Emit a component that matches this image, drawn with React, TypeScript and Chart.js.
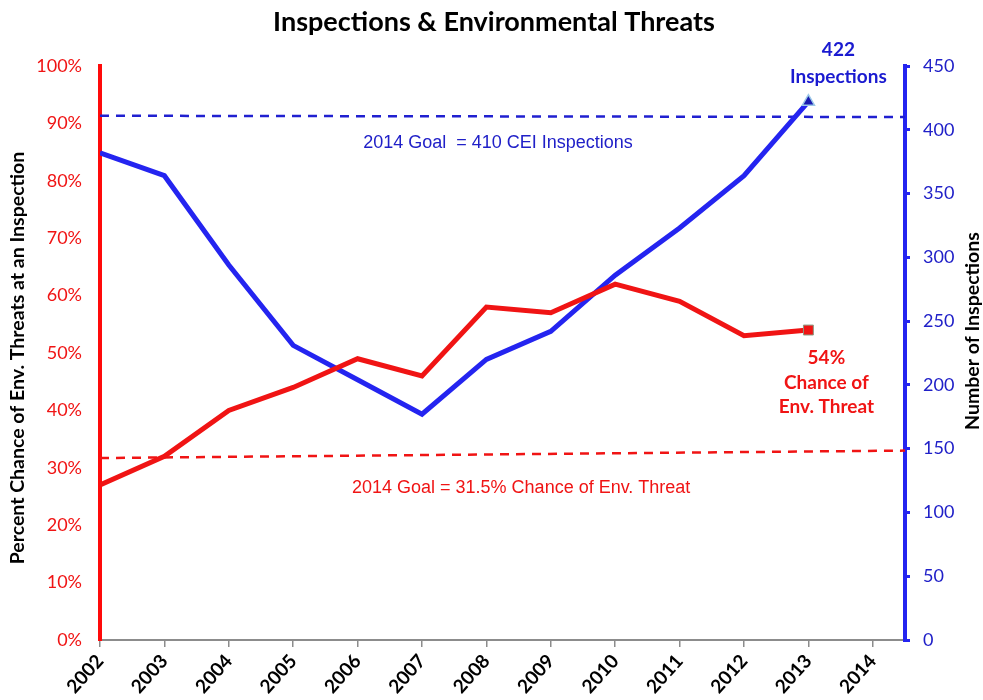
import React, { useEffect, useRef } from "react";
import { Chart, registerables } from "chart.js";

Chart.register(...registerables);

const years = [2002, 2003, 2004, 2005, 2006, 2007, 2008, 2009, 2010, 2011, 2012, 2013];
const threatPct = [27, 32, 40, 44, 49, 46, 58, 57, 62, 59, 53, 54];
const inspections = [382, 364, 294, 231, 204, 177, 220, 242, 286, 323, 364, 422];
const goalYears = [2002, 2014.5];
const threatGoal = [31.7, 33.0];
const inspectionGoal = [411, 410];
const xTickYears = [2002, 2003, 2004, 2005, 2006, 2007, 2008, 2009, 2010, 2011, 2012, 2013, 2014];

const RED = "#f01414";
const BLUE = "#2424f0";

const textPlugin = {
  id: "textPlugin",
  afterDraw(chart: any) {
    const ctx = chart.ctx;
    const xS = chart.scales.x;
    const yL = chart.scales.yL;
    const yR = chart.scales.yR;
    ctx.save();
    ctx.textAlign = "center";
    ctx.textBaseline = "middle";
    // Title
    ctx.fillStyle = "#000";
    ctx.font = "bold 27px Lato";
    ctx.fillText("Inspections & Environmental Threats", 494, 22);
    // Left axis title
    ctx.save();
    ctx.translate(18, 358);
    ctx.rotate(-Math.PI / 2);
    ctx.font = "bold 19.5px Lato";
    ctx.fillText("Percent Chance of Env. Threats at an Inspection", 0, 0);
    ctx.restore();
    // Right axis title
    ctx.save();
    ctx.translate(973, 331);
    ctx.rotate(-Math.PI / 2);
    ctx.font = "bold 19.5px Lato";
    ctx.fillText("Number of Inspections", 0, 0);
    ctx.restore();

    const last = years.length - 1;
    // 422 Inspections
    const bx = xS.getPixelForValue(years[last]) + 30;
    const by = yR.getPixelForValue(inspections[last]);
    ctx.fillStyle = "#1a1ad0";
    ctx.font = "bold 19px Lato";
    ctx.fillText(String(inspections[last]), bx, by - 52);
    ctx.fillText("Inspections", bx, by - 25);
    // 54% Chance of Env. Threat
    const rx = xS.getPixelForValue(years[last]) + 18;
    const ry = yL.getPixelForValue(threatPct[last]);
    ctx.fillStyle = RED;
    ctx.fillText(threatPct[last] + "%", rx, ry + 28);
    ctx.fillText("Chance of", rx, ry + 53);
    ctx.fillText("Env. Threat", rx, ry + 77);
    // Goal labels
    ctx.font = "18px 'Liberation Sans'";
    ctx.fillStyle = "#2020c8";
    ctx.fillText("2014 Goal  = 410 CEI Inspections", xS.getPixelForValue(2008.18), yR.getPixelForValue(inspectionGoal[0]) + 27);
    ctx.fillStyle = RED;
    ctx.fillText("2014 Goal = 31.5% Chance of Env. Threat", xS.getPixelForValue(2008.54), yL.getPixelForValue(threatGoal[0]) + 30);
    ctx.restore();
  },
};

export default function App() {
  const ref = useRef<HTMLCanvasElement>(null);
  useEffect(() => {
    if (!ref.current) return;
    const n = years.length;
    const chart = new Chart(ref.current, {
      type: "line",
      data: {
        datasets: [
          {
            label: "Chance of Env. Threat",
            data: years.map((y, i) => ({ x: y, y: threatPct[i] })),
            yAxisID: "yL",
            borderColor: RED,
            borderWidth: 5,
            backgroundColor: RED,
            pointStyle: "rect",
            pointRadius: years.map((_, i) => (i === n - 1 ? 7 : 0)),
            pointBorderColor: "#8a9a82",
            pointBorderWidth: 1,
            tension: 0,
          },
          {
            label: "Inspections",
            data: years.map((y, i) => ({ x: y, y: inspections[i] })),
            yAxisID: "yR",
            borderColor: BLUE,
            borderWidth: 5,
            backgroundColor: "#1a1ab0",
            pointStyle: "triangle",
            pointRadius: years.map((_, i) => (i === n - 1 ? 7 : 0)),
            pointBorderColor: "#9cc8e8",
            pointBorderWidth: 1.5,
            tension: 0,
          },
          {
            label: "Threat goal",
            data: goalYears.map((y, i) => ({ x: y, y: threatGoal[i] })),
            yAxisID: "yL",
            borderColor: RED,
            borderWidth: 2.5,
            borderDash: [9, 7],
            pointRadius: 0,
          },
          {
            label: "Inspection goal",
            data: goalYears.map((y, i) => ({ x: y, y: inspectionGoal[i] })),
            yAxisID: "yR",
            borderColor: "#2020d0",
            borderWidth: 2.5,
            borderDash: [9, 7],
            pointRadius: 0,
          },
        ],
      },
      options: {
        animation: false,
        responsive: true,
        maintainAspectRatio: false,
        layout: { padding: { top: 66, left: 0, right: 0, bottom: 0 } },
        plugins: {
          legend: { display: false },
          tooltip: { enabled: false },
          title: { display: false },
        },
        scales: {
          x: {
            type: "linear",
            min: 2002,
            max: 2014.5,
            afterBuildTicks: (scale: any) => {
              scale.ticks = xTickYears.map((v) => ({ value: v }));
            },
            afterFit: (scale: any) => {
              scale.height = 60;
            },
            ticks: {
              autoSkip: false,
              minRotation: 48,
              maxRotation: 48,
              padding: 3,
              color: "#000",
              font: { family: "Lato", size: 19, weight: "bold" },
              callback: (v: any) => String(v),
            },
            grid: {
              display: true,
              drawOnChartArea: false,
              drawTicks: true,
              tickLength: 7,
              color: "#8c8c8c",
              lineWidth: 1.5,
            },
            border: { display: true, color: "#8c8c8c", width: 2 },
          },
          yL: {
            type: "linear",
            position: "left",
            min: 0,
            max: 100,
            afterFit: (scale: any) => {
              scale.width = 100;
            },
            ticks: {
              stepSize: 10,
              padding: 18,
              color: RED,
              font: { family: "Lato", size: 18 },
              callback: (v: any) => v + "%",
            },
            grid: { display: true, drawOnChartArea: false, drawTicks: false, color: "rgba(0,0,0,0)" },
            border: { display: true, color: "#ff0a0a", width: 4 },
          },
          yR: {
            type: "linear",
            position: "right",
            min: 0,
            max: 450,
            afterFit: (scale: any) => {
              scale.width = 78;
            },
            ticks: {
              stepSize: 50,
              padding: 13,
              color: "#2020c8",
              font: { family: "Lato", size: 18 },
            },
            grid: {
              display: true,
              drawOnChartArea: false,
              drawTicks: true,
              tickLength: 5,
              lineWidth: 3,
              color: BLUE,
            },
            border: { display: true, color: BLUE, width: 4 },
          },
        },
      },
      plugins: [textPlugin],
    });
    return () => chart.destroy();
  }, []);
  return (
    <div style={{ position: "fixed", left: 0, top: 0, width: 983, height: 700, background: "#fff" }}>
      <canvas ref={ref} />
    </div>
  );
}
